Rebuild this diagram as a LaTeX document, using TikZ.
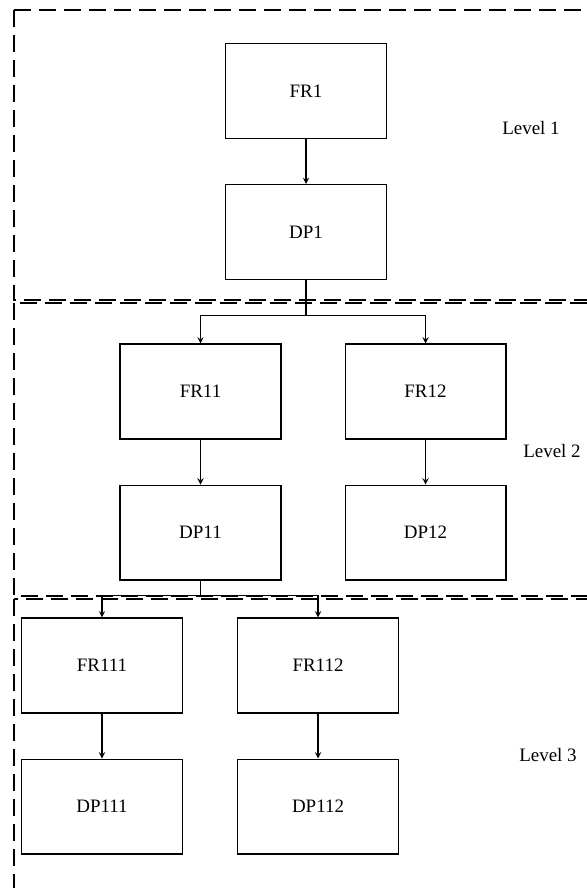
\documentclass[tikz,border=0pt]{standalone}
\usepackage{fontspec}
\setmainfont{Liberation Serif}
\usetikzlibrary{shapes.geometric,arrows, positioning, calc}
\tikzstyle{block} = [rectangle, minimum width=3.22cm, minimum height=1.9cm, text centered, draw=black, line width=0.6pt, font=\fontsize{10.8}{13}\selectfont]
\tikzstyle{level} = [draw=black, line width=0.8pt, dash pattern=on 0.34cm off 0.16cm]
\tikzstyle{levellabel} = [font=\fontsize{10.8}{13}\selectfont]
\tikzstyle{link} = [line width=0.6pt, ->, >=stealth]

\begin{document}
\begin{tikzpicture}[x=0.02cm, y=-0.02cm, node distance=0.9cm and 1.26cm]
			\clip (0,0) rectangle (587,888);
			\draw[level] (14,10) rectangle (620,300);
			\draw[level] (14,303) rectangle (620,596);
			\draw[level] (14,599) rectangle (620,920);

			\node (fr1) [block] at (306,91) {FR1};
			\node (dp1) [block, below=of fr1] {DP1};
			\node (fr11) [block] at (200.5,391.5) {FR11};
			\node (fr12) [block, right=of fr11] {FR12};
			\node (dp11) [block, below=of fr11] {DP11};
			\node (dp12) [block, below=of fr12] {DP12};
			\node (fr111) [block] at (102,665.5) {FR111};
			\node (fr112) [block, right=1.08cm of fr111] {FR112};
			\node (dp111) [block, below=of fr111] {DP111};
			\node (dp112) [block, below=of fr112] {DP112};

			\node (lv1) [levellabel] at (531,128) {Level 1};
			\node (lv2) [levellabel] at (552,451) {Level 2};
			\node (lv3) [levellabel] at (548,755) {Level 3};

			\draw[link] (fr1) -- (dp1);
			\draw[link] (dp1.south) -- ++(0,35) -| (fr11.north);
			\draw[link] (dp1.south) -- ++(0,35) -| (fr12.north);
			\draw[link] (fr11) -- (dp11);
			\draw[link] (fr12) -- (dp12);
			\draw[link] (dp11.south) -- ++(0,15) -| (fr111.north);
			\draw[link] (dp11.south) -- ++(0,15) -| (fr112.north);
			\draw[link] (fr111) -- (dp111);
			\draw[link] (fr112) -- (dp112);
\end{tikzpicture}
\end{document}
